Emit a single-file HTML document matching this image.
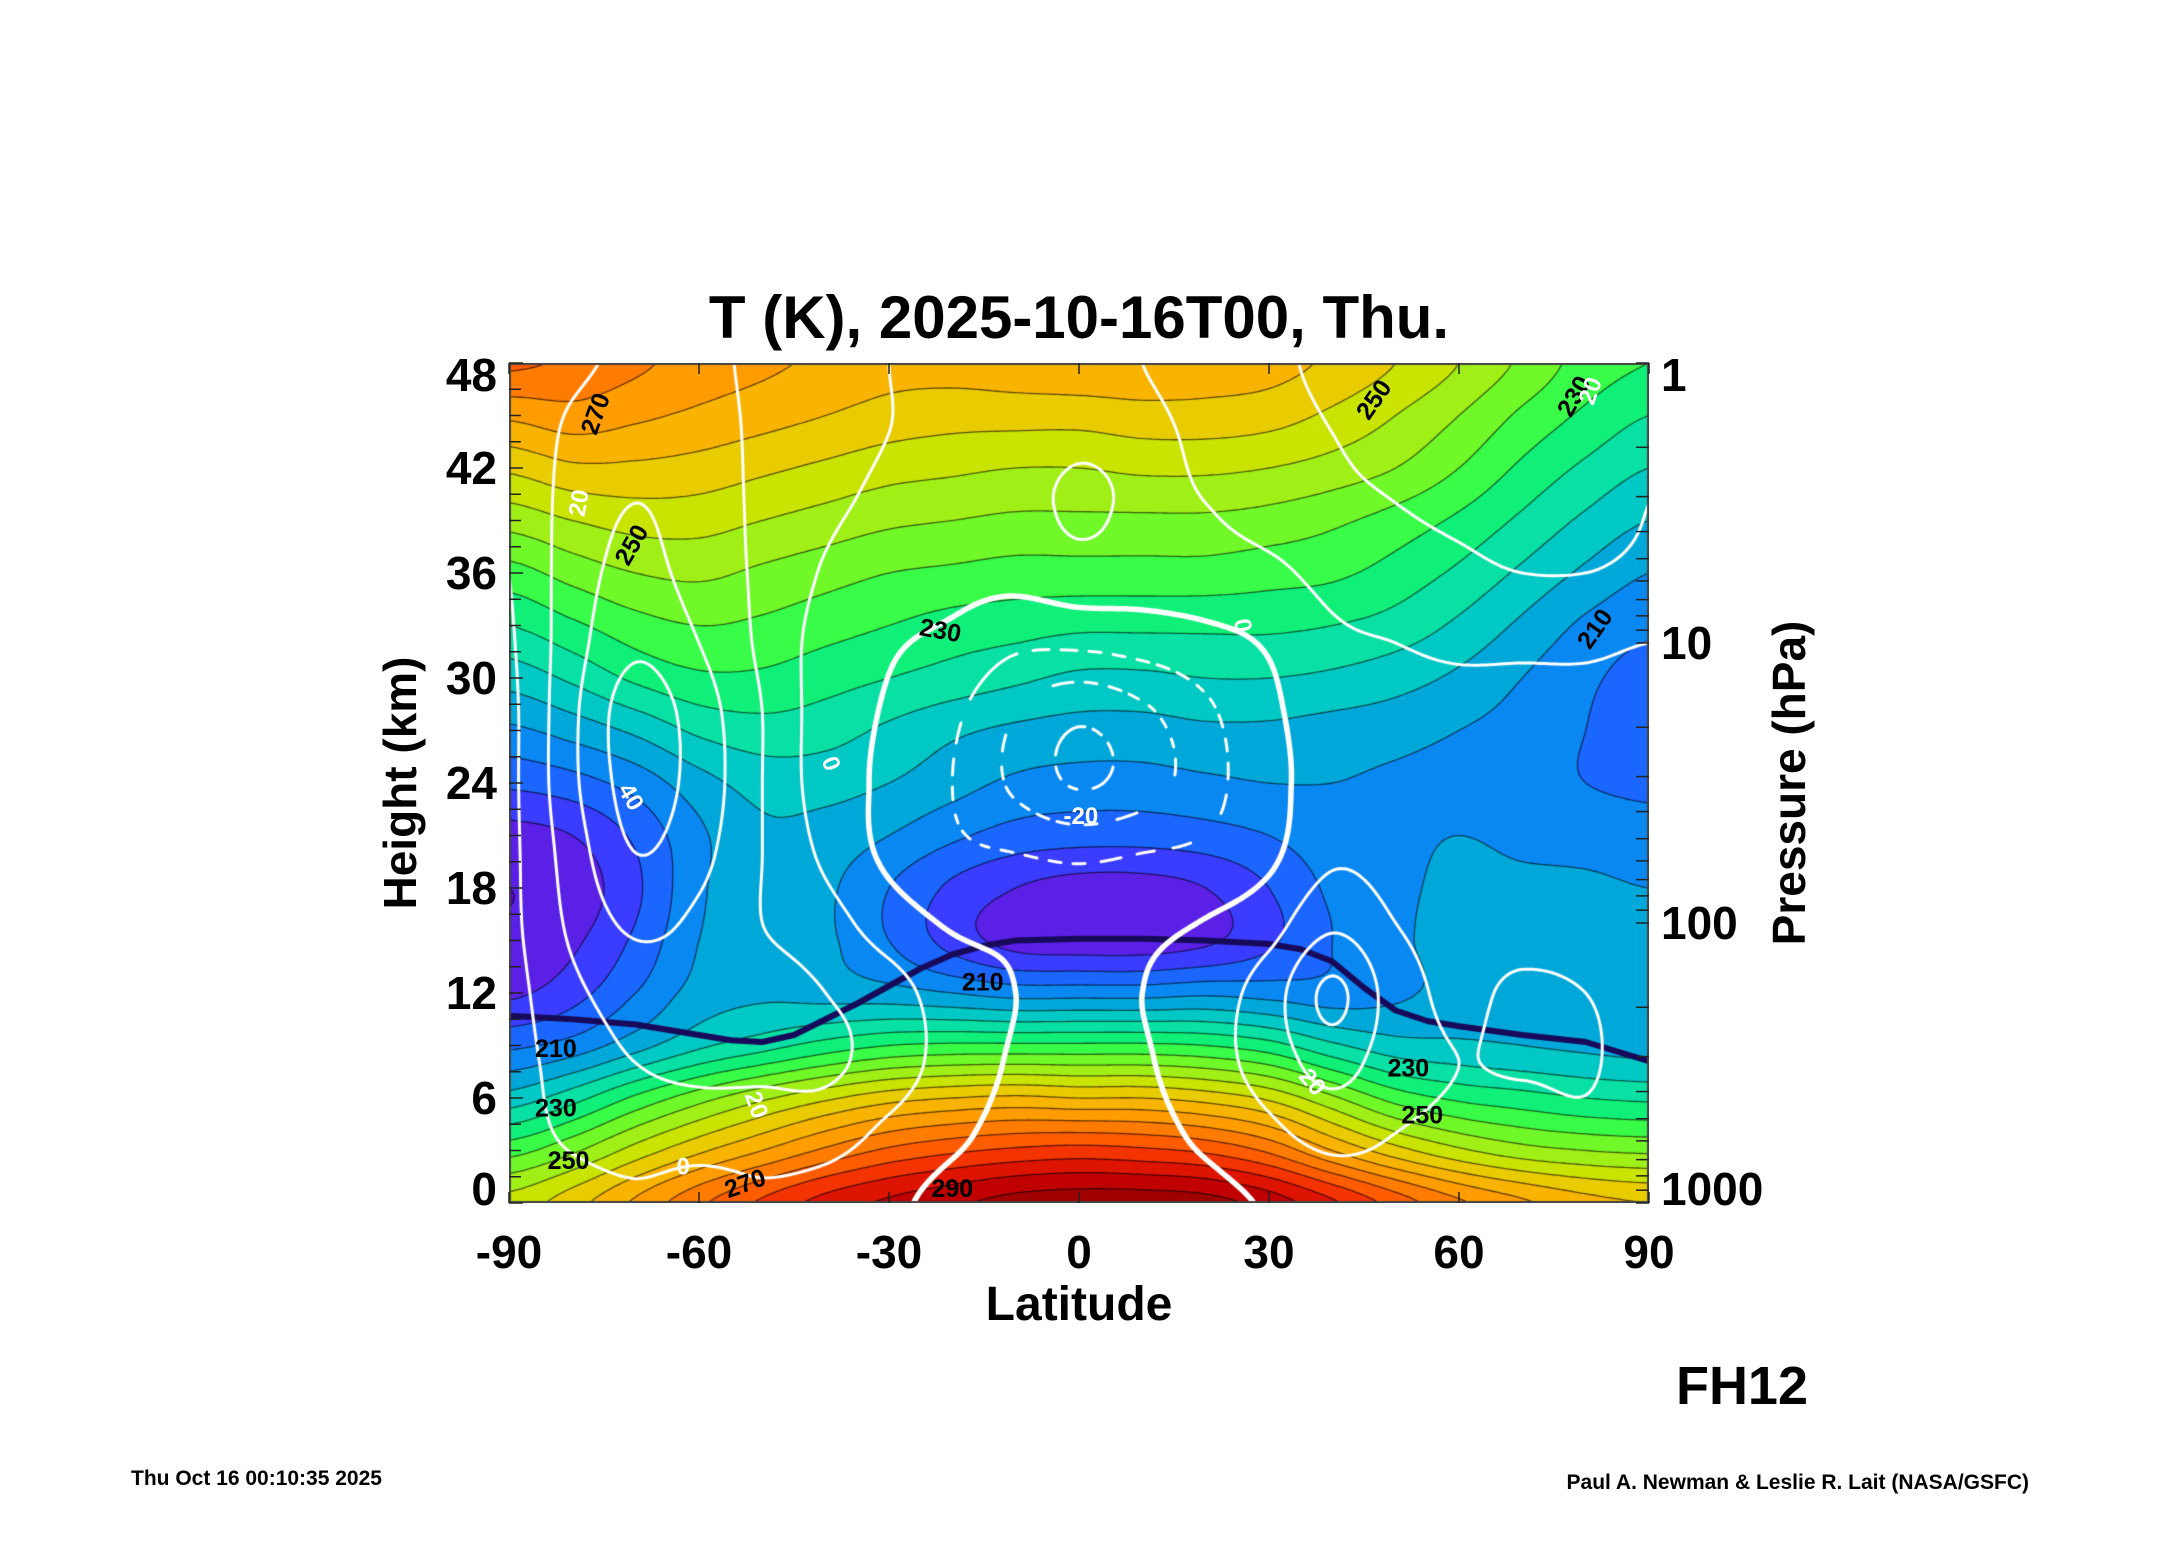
<!DOCTYPE html>
<html>
<head>
<meta charset="utf-8">
<style>
  html,body{margin:0;padding:0;background:#fff;}
  body{width:2165px;height:1561px;position:relative;overflow:hidden;font-family:"Liberation Sans",Arial,sans-serif;}
  #plot{position:absolute;left:509px;top:363px;width:1140px;height:840px;}
  #overlay{position:absolute;left:0;top:0;}
  text{font-family:"Liberation Sans",Arial,sans-serif;font-weight:bold;}
</style>
</head>
<body>
<canvas id="plot" width="1140" height="840"></canvas>
<svg id="overlay" width="2165" height="1561">
  <text x="1079" y="338" font-size="60" text-anchor="middle">T (K), 2025-10-16T00, Thu.</text>
  <text x="1079" y="1320" font-size="48" text-anchor="middle">Latitude</text>
  <text transform="translate(416,783) rotate(-90)" font-size="46" text-anchor="middle">Height (km)</text>
  <text transform="translate(1805,783) rotate(-90)" font-size="46" text-anchor="middle">Pressure (hPa)</text>
  <text x="1808" y="1404" font-size="54" text-anchor="end">FH12</text>
  <text x="131" y="1485" font-size="21">Thu Oct 16 00:10:35 2025</text>
  <text x="2029" y="1489" font-size="21" text-anchor="end">Paul A. Newman &amp; Leslie R. Lait (NASA/GSFC)</text>
  <g id="axes"></g>
  <g id="labels"></g>
</svg>
<script>
// ---- Data ----
const tLats = [-90,-80,-70,-60,-50,-40,-30,-20,-10,0,10,20,30,40,50,60,70,80,90];
const tHeights = [0,3,6,9,12,15,18,21,24,27,30,33,36,39,42,45,48];
const tempRows = [
 [252,258,266,274,281,287,291,294,297,298,298,297,293,286,278,271,266,262,260],
 [238,244,252,259,265,271,276,279,281,282,281,279,274,265,257,251,247,245,244],
 [222,228,236,243,249,254,258,260,261,260,260,258,254,246,238,234,232,230,229],
 [209,212,218,224,228,232,235,236,236,236,236,235,232,226,222,221,220,219,218],
 [199,203,210,217,219,218,217,215,213,213,213,214,213,212,214,217,219,219,218],
 [196,199,206,215,219,216,210,203,198,197,197,199,204,210,214,217,218,218,218],
 [195,197,204,214,219,216,210,204,200,198,198,200,205,211,214,216,216,216,215],
 [198,200,206,214,219,218,215,211,208,207,207,208,210,213,214,215,214,213,212],
 [206,208,212,218,222,222,220,217,214,213,213,214,215,215,214,213,212,210,209],
 [214,217,221,226,228,227,224,221,219,218,218,219,219,218,217,215,213,210,208],
 [222,226,231,234,234,232,230,228,226,224,224,225,225,224,222,219,215,211,208],
 [230,234,238,240,239,237,235,233,232,231,231,231,231,230,228,224,219,214,211],
 [238,242,245,246,244,242,240,239,238,238,238,238,237,236,233,229,224,219,215],
 [247,250,252,252,250,248,246,245,244,244,244,244,243,241,238,234,229,224,220],
 [256,259,259,258,256,254,252,251,250,250,251,251,250,248,245,240,234,229,225],
 [266,268,266,264,262,260,258,257,257,257,258,258,257,254,250,245,239,234,230],
 [276,274,271,268,266,264,262,262,263,264,264,263,262,259,255,250,244,238,235]
];
const uLats = [-90,-80,-70,-60,-50,-40,-30,-20,-10,0,10,20,30,40,50,60,70,80,90];
const uHeights = [0,4,8,12,16,20,24,28,32,36,40,44,48];
const windRows = [
 [0,5,8,5,8,6,2,-3,-5,-6,-5,-3,1,5,6,4,3,3,2],
 [5,12,15,15,15,14,8,2,-3,-4,-3,2,8,13,10,8,6,8,5],
 [6,15,20,22,22,22,15,6,-1,-2,-1,6,14,24,14,10,11,11,6],
 [7,18,24,25,24,20,14,5,0,-1,0,5,15,32,15,8,12,10,6],
 [8,22,32,28,20,14,5,-1,-2,-3,-2,0.5,6,18,10,6,5,5,4],
 [8,25,40,33,20,8,-2,-8,-10,-12,-10,-8,-2,8,6,5,4,4,3],
 [8,28,44,36,20,5,-2,-10,-22,-31,-25,-14,-3,4,5,5,5,5,4],
 [8,28,45,35,20,5,-1,-8,-20,-28,-22,-12,-2,5,6,6,6,6,5],
 [9,26,38,30,18,6,1,-2,-8,-8,-6,-3,1,8,10,12,12,12,10],
 [10,25,33,26,18,9,4,3,3,6,5,6,8,13,16,18,20,20,18],
 [11,24,30,25,18,12,8,6,6,12,8,10,14,18,20,22,24,24,20],
 [12,22,27,24,18,13,10,8,6,8,8,12,16,20,22,24,26,24,20],
 [12,18,22,22,18,14,10,9,8,8,10,14,18,22,24,26,27,24,20]
];
const windLevels = [-30,-20,-10,0,10,20,30,40];
const tropLats = [-90,-80,-70,-60,-55,-50,-45,-40,-35,-30,-25,-20,-15,-10,0,10,20,30,35,40,45,50,55,60,70,80,90];
const tropHeights = [10.7,10.5,10.2,9.6,9.3,9.2,9.6,10.5,11.4,12.4,13.4,14.2,14.7,15.0,15.1,15.1,15.0,14.8,14.5,13.8,12.3,11.0,10.4,10.1,9.6,9.2,8.1];
const xTicks = [-90,-60,-30,0,30,60,90];
const yTicks = [0,6,12,18,24,30,36,42,48];
const pTicks = [1,10,100,1000];
const tempLabelText = ["270","250","230","210","210","230","250","270","290","250","230","250","210","230"];
const tempLabelLat = [-76.3,-70.6,-21.9,-15.2,-82.6,-82.6,-80.6,-52.7,-20,46.6,52,54.2,81.5,78.2];
const tempLabelH = [45.1,37.6,32.7,12.6,8.8,5.4,2.4,1.1,0.8,45.9,7.7,5.0,32.8,46.1];
const tempLabelRot = [-70,-60,10,0,0,0,0,-20,0,-55,0,0,-55,-60];
const windLabelText = ["20","40","0","-20","0","20","20","0","20"];
const windLabelLat = [-78.9,-70.8,-39.2,0.3,25.8,-51,36.8,-62.5,80.8];
const windLabelH = [40,23.2,25.1,22.1,33,5.6,6.9,2.05,46.4];
const windLabelRot = [-80,60,70,0,80,70,50,0,-70];

// ---- Scales ----
const PL=509, PT=363, PW=1140, PH=840;
function xScale(lat){return PL + (lat+90)/180*PW;}
function yScale(h){return PT + (48-h)/48*PH;}
function pToH(p){return 7*Math.log(1000/p)*48/(7*Math.log(1000));}

// palette for 5K bands starting at 185
const palette=["#4a00a8","#5508c8","#5a20e6","#3a3cff","#1a66ff","#0a88f2","#00a8da","#00c8c4","#08e0a4","#10f078","#38fc48","#70f828","#a0f018","#c8e400","#e8cc00","#f8b400","#ff9c00","#ff7c00","#ff5c00","#f43400","#dc1400","#c00000","#a00000","#840000","#700000"];

function cr(p0,p1,p2,p3,t){return p1+0.5*t*(p2-p0+t*(2*p0-5*p1+4*p2-p3+t*(3*(p1-p2)+p3-p0)));}
function sample(grid,xs,ys,x,y){
  const nx=xs.length, ny=ys.length;
  let fx=(x-xs[0])/(xs[1]-xs[0]); let i=Math.floor(fx); if(i<0)i=0; if(i>nx-2)i=nx-2; const t=fx-i;
  let fy=(y-ys[0])/(ys[1]-ys[0]); let j=Math.floor(fy); if(j<0)j=0; if(j>ny-2)j=ny-2; const u=fy-j;
  const cl=(a,n)=>Math.max(0,Math.min(n-1,a));
  const vals=[];
  for(let k=-1;k<=2;k++){
    const r=grid[cl(j+k,ny)];
    vals.push(cr(r[cl(i-1,nx)],r[i],r[i+1],r[cl(i+2,nx)],t));
  }
  return cr(vals[0],vals[1],vals[2],vals[3],u);
}
function hexToRgb(h){return [parseInt(h.substr(1,2),16),parseInt(h.substr(3,2),16),parseInt(h.substr(5,2),16)];}
const palRgb=palette.map(hexToRgb);

const cv=document.getElementById('plot');
const ctx=cv.getContext('2d');
const img=ctx.createImageData(PW,PH);
for(let py=0;py<PH;py++){
  const h=48-py/(PH-1)*48;
  for(let px=0;px<PW;px++){
    const lat=-90+px/(PW-1)*180;
    const T=sample(tempRows,tLats,tHeights,lat,h);
    let b=Math.floor((T-185)/5); if(b<0)b=0; if(b>=palRgb.length)b=palRgb.length-1;
    const c=palRgb[b]; const o=(py*PW+px)*4;
    img.data[o]=c[0];img.data[o+1]=c[1];img.data[o+2]=c[2];img.data[o+3]=255;
  }
}
ctx.putImageData(img,0,0);

// marching squares
function contour(grid,xs,ys,level,step,drawSeg){
  const nx=Math.ceil(PW/step), ny=Math.ceil(PH/step);
  const F=[];
  for(let j=0;j<=ny;j++){const row=[];const py=Math.min(j*step,PH);const h=48-py/PH*48;
    for(let i=0;i<=nx;i++){const px=Math.min(i*step,PW);const lat=-90+px/PW*180;row.push(sample(grid,xs,ys,lat,h));}
    F.push(row);}
  for(let j=0;j<ny;j++)for(let i=0;i<nx;i++){
    const x0=i*step,y0=j*step,x1=Math.min((i+1)*step,PW),y1=Math.min((j+1)*step,PH);
    const a=F[j][i],b=F[j][i+1],c=F[j+1][i+1],d=F[j+1][i];
    const code=(a>level?8:0)|(b>level?4:0)|(c>level?2:0)|(d>level?1:0);
    if(code===0||code===15)continue;
    const top=[x0+(level-a)/(b-a)*(x1-x0),y0], right=[x1,y0+(level-b)/(c-b)*(y1-y0)],
          bot=[x0+(level-d)/(c-d)*(x1-x0),y1], left=[x0,y0+(level-a)/(d-a)*(y1-y0)];
    const S={1:[[left,bot]],2:[[bot,right]],3:[[left,right]],4:[[top,right]],5:[[left,top],[bot,right]],6:[[top,bot]],7:[[left,top]],
             8:[[left,top]],9:[[top,bot]],10:[[top,right],[left,bot]],11:[[top,right]],12:[[left,right]],13:[[bot,right]],14:[[left,bot]]}[code];
    S.forEach(s=>drawSeg(s[0],s[1]));
  }
}
// temperature contour lines every 5K
ctx.strokeStyle="rgba(0,0,0,0.6)";ctx.lineWidth=1.3;ctx.beginPath();
for(let L=195;L<=300;L+=5){contour(tempRows,tLats,tHeights,L,4,(p,q)=>{ctx.moveTo(p[0],p[1]);ctx.lineTo(q[0],q[1]);});}
ctx.stroke();

// tropopause line
ctx.strokeStyle="#180a5a";ctx.lineWidth=6;ctx.lineJoin="round";ctx.beginPath();
tropLats.forEach((la,k)=>{const x=xScale(la)-PL,y=yScale(tropHeights[k])-PT;if(k===0)ctx.moveTo(x,y);else ctx.lineTo(x,y);});
ctx.stroke();

// wind contours
windLevels.forEach(L=>{
  ctx.strokeStyle="#fff";ctx.lineCap="round";
  ctx.lineWidth=(L===0)?5.5:3;
  ctx.beginPath();
  contour(windRows,uLats,uHeights,L,4,(p,q)=>{
    if(L<0){const m=(p[0]+p[1]+q[0]+q[1])/2; if(Math.floor(m/14)%2===1)return;}
    ctx.moveTo(p[0],p[1]);ctx.lineTo(q[0],q[1]);});
  ctx.stroke();
});
ctx.strokeStyle="#444";ctx.lineWidth=2;ctx.strokeRect(1,1,PW-2,PH-2);

// ---- axes ----
const NS="http://www.w3.org/2000/svg";
const axes=document.getElementById('axes');
function line(x1,y1,x2,y2,name){
  const l=document.createElementNS(NS,'line');
  l.setAttribute('x1',x1);l.setAttribute('y1',y1);l.setAttribute('x2',x2);l.setAttribute('y2',y2);
  l.setAttribute('stroke','#222');l.setAttribute('stroke-width','1.5');
  
  
  axes.appendChild(l);
}
function txt(parent,x,y,s,size,anchor,name,fill,rot){
  const t=document.createElementNS(NS,'text');
  t.setAttribute('font-size',size);t.setAttribute('text-anchor',anchor);
  t.setAttribute('dominant-baseline','central');
  if(fill)t.setAttribute('fill',fill);
  t.setAttribute('transform','translate('+x+','+y+') rotate('+(rot||0)+')');
  t.textContent=s;
  
  
  parent.appendChild(t);
}
for(let h=0;h<=48;h+=1.5){line(PL,yScale(h),PL+(h%6===0?14:12),yScale(h),'y-tick');}
yTicks.forEach(h=>{let y=yScale(h); if(h===48)y+=12; if(h===0)y-=14; txt(axes,497,y,String(h),46,'end','y-tick-label');});
for(let d=1;d<=1000;d*=10){for(let m=1;m<10;m++){const p=d*m;if(p>1000)break;const y=yScale(pToH(p));line(PL+PW-13,y,PL+PW,y,'right-tick');}}
pTicks.forEach(p=>{let y=yScale(pToH(p)); if(p===1)y+=12; if(p===1000)y-=14; txt(axes,1661,y,String(p),46,'start','pressure-tick-label');});
xTicks.forEach(la=>{const x=xScale(la);line(x,PT+PH,x,PT+PH-11,'x-tick');line(x,PT,x,PT+11,'x-tick-top');txt(axes,x,1252,String(la),46,'middle','x-tick-label');});

// ---- contour labels ----
const labs=document.getElementById('labels');
tempLabelText.forEach((s,k)=>{txt(labs,xScale(tempLabelLat[k]),yScale(tempLabelH[k]),s,25,'middle','temperature-contour-label','#000',tempLabelRot[k]);});
windLabelText.forEach((s,k)=>{txt(labs,xScale(windLabelLat[k]),yScale(windLabelH[k]),s,24,'middle','wind-contour-label','#fff',windLabelRot[k]);});
</script>
</body>
</html>
